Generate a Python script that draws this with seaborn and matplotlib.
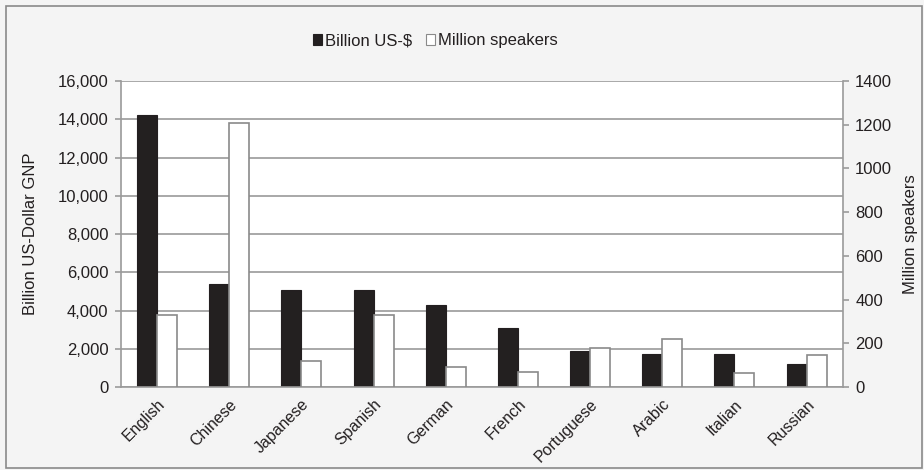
import matplotlib
matplotlib.use("Agg")
import matplotlib.pyplot as plt
import seaborn as sns
import pandas as pd
import numpy as np
from matplotlib.patches import Rectangle
from matplotlib.ticker import FuncFormatter, MultipleLocator

languages = ["English", "Chinese", "Japanese", "Spanish", "German",
             "French", "Portuguese", "Arabic", "Italian", "Russian"]
gnp_billion_usd = [14200, 5400, 5050, 5050, 4300, 3100, 1900, 1700, 1700, 1200]
million_speakers = [330, 1210, 120, 330, 90, 70, 180, 220, 65, 148]
series_names = ["Billion US-$", "Million speakers"]

sns.set_theme(style="white")
plt.rcParams["font.family"] = ["Liberation Sans", "DejaVu Sans"]

n = len(languages)
df_gnp = pd.DataFrame({"lang": languages * 2,
                       "series": [series_names[0]] * n + [series_names[1]] * n,
                       "value": list(gnp_billion_usd) + [np.nan] * n})
df_spk = pd.DataFrame({"lang": languages * 2,
                       "series": [series_names[0]] * n + [series_names[1]] * n,
                       "value": [np.nan] * n + list(million_speakers)})

fig = plt.figure(figsize=(9.24, 4.7), dpi=100)
fig.patch.set_facecolor("#f4f4f4")
fig.patches.append(Rectangle((0.006, 0.004), 0.992, 0.983, transform=fig.transFigure,
                             fill=False, edgecolor="#8a8a8a", linewidth=1.2))

ax1 = fig.add_axes([0.131, 0.1766, 0.781, 0.651])
ax1.set_facecolor("white")
ax2 = ax1.twinx()

grid_c = "#9a9a9a"
txt_c = "#231f20"
fs = 12
palette = {series_names[0]: "#231f20", series_names[1]: "white"}

sns.barplot(data=df_gnp, x="lang", y="value", hue="series", hue_order=series_names,
            palette=palette, order=languages, width=0.555, dodge=True,
            edgecolor="#231f20", linewidth=0.8, errorbar=None, legend=False, ax=ax1)
sns.barplot(data=df_spk, x="lang", y="value", hue="series", hue_order=series_names,
            palette=palette, order=languages, width=0.555, dodge=True,
            edgecolor="#8a8a8a", linewidth=1.2, errorbar=None, legend=False, ax=ax2)

ax1.set_ylim(0, 16000)
ax2.set_ylim(0, 1400)
ax1.set_xlim(-0.5, n - 0.5)
ax1.yaxis.set_major_locator(MultipleLocator(2000))
ax2.yaxis.set_major_locator(MultipleLocator(200))
ax1.yaxis.set_major_formatter(FuncFormatter(lambda v, p: f"{int(v):,}"))

ax1.set_axisbelow(True)
ax1.grid(axis="y", color=grid_c, linewidth=1.2)
ax1.grid(axis="x", visible=False)
ax2.grid(False)

for ax in (ax1, ax2):
    for s in ax.spines.values():
        s.set_visible(False)
ax1.spines["left"].set_visible(True)
ax1.spines["left"].set_color(grid_c)
ax1.spines["left"].set_linewidth(1.2)
ax1.spines["bottom"].set_visible(True)
ax1.spines["bottom"].set_color(grid_c)
ax1.spines["bottom"].set_linewidth(1.2)
ax2.spines["right"].set_visible(True)
ax2.spines["right"].set_color(grid_c)
ax2.spines["right"].set_linewidth(1.2)

ax1.set_xticks(np.arange(n))
ax1.set_xticklabels(languages, rotation=45, ha="right", rotation_mode="anchor",
                    fontsize=fs - 0.5, color=txt_c)
ax1.tick_params(axis="x", length=0, pad=7)
ax1.set_xticks(np.arange(n + 1) - 0.5, minor=True)
ax1.tick_params(axis="x", which="minor", length=5, color=grid_c, width=1.2, direction="out")

ax1.tick_params(axis="y", length=4, color=grid_c, width=1.2, labelsize=fs,
                labelcolor=txt_c, left=True, pad=5)
ax2.tick_params(axis="y", length=4, color=grid_c, width=1.2, labelsize=fs,
                labelcolor=txt_c, right=True, pad=5)

ax1.set_xlabel("")
ax1.set_ylabel("Billion US-Dollar GNP", fontsize=fs, color=txt_c, labelpad=14)
ax2.set_ylabel("Million speakers", fontsize=fs, color=txt_c, labelpad=8)

handles = [Rectangle((0, 0), 1, 1, facecolor="#231f20", edgecolor="#231f20", linewidth=0.8),
           Rectangle((0, 0), 1, 1, facecolor="white", edgecolor="#8a8a8a", linewidth=0.8)]
fig.legend(handles, series_names, loc="center", bbox_to_anchor=(0.471, 0.913), ncol=2,
           frameon=False, fontsize=fs, handlelength=0.55, handleheight=0.55,
           handletextpad=0.2, columnspacing=0.8, labelcolor=txt_c)

fig.savefig("out.png", dpi=100, facecolor=fig.get_facecolor())
